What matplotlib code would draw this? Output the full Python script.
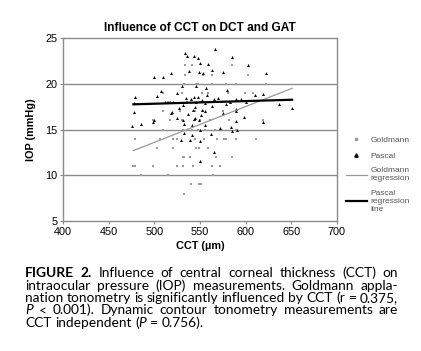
import numpy as np
import matplotlib
matplotlib.use('Agg')
import matplotlib.pyplot as plt
from matplotlib.lines import Line2D

# Goldmann applanation tonometry (GAT) readings
gold_cct = [477, 479, 479, 485, 498, 503, 509, 506, 515, 520, 520, 525, 525, 531, 531, 533, 532,
            539, 540, 549, 551, 542, 549, 546, 545, 554, 559, 564, 563, 572, 568, 569, 576, 579,
            585, 590, 611,
            509, 531, 541, 548, 556, 566, 590,
            499, 517, 530, 545, 550, 561, 582, 619,
            510, 528, 545, 553, 575, 589,
            515, 517, 536, 550, 568, 583,
            509, 530, 552, 559, 581, 599, 608,
            532, 546, 548, 563, 579, 590, 622,
            534, 553, 563, 603,
            534, 541, 585]
gold_iop = [11, 11, 14, 10, 11, 13, 15, 14, 10, 13, 14, 11, 14, 11, 12, 12, 8,
            12, 9, 9, 9, 11, 13, 13, 14, 14, 13, 10, 11, 11, 12, 14, 14, 14,
            12, 14, 14,
            15, 15, 15, 15, 15, 15, 15,
            16, 16, 16, 16, 16, 16, 16, 16,
            17, 17, 17, 17, 17, 17,
            18, 18, 18, 18, 18, 18,
            19, 19, 19, 19, 19, 19, 19,
            20, 20, 20, 20, 20, 20, 20,
            21, 21, 21, 21,
            22, 22, 22]

# Pascal dynamic contour tonometry (DCT) readings
pascal_cct = [479, 478, 478, 500, 509, 507, 503, 518, 534, 536, 543, 548, 550, 559, 567, 538,
              549, 553, 563, 575, 585, 603, 622, 530, 525, 546, 557, 580, 610, 619, 570, 590,
              637, 651, 519, 531, 542, 552, 563, 590, 598, 476, 485, 498, 500, 518, 525, 531,
              532, 533, 529, 539, 541, 541, 543, 549, 550, 550, 556, 550, 562, 565, 572, 575,
              584, 585, 589, 591, 619, 590,
              540, 543, 546, 548, 552, 555, 544, 558, 535, 520, 512, 565, 578, 583, 600, 595,
              527, 537, 551, 556, 545]
pascal_iop = [18.5, 17.9, 16.9, 20.7, 20.7, 19.2, 18.7, 21.2, 23.4, 23.0, 23.0, 22.8, 22.3, 22.1, 23.8, 21.4,
              21.3, 21.2, 21.5, 21.3, 22.9, 22.0, 21.2, 19.75, 19.0, 19.7, 19.5, 19.3, 18.8, 18.85, 18.4, 18.3,
              17.75, 17.3, 16.9, 17.7, 17.1, 17.1, 17.6, 17.05, 16.4, 15.4, 15.6, 15.8, 16.0, 16.8, 16.3, 16.0,
              15.65, 14.6, 13.85, 13.85, 14.4, 15.5, 16.1, 16.0, 14.9, 13.8, 15.5, 11.55, 14.5, 12.6, 15.2, 16.85,
              15.3, 14.85, 15.9, 14.9, 15.8, 17.2,
              18.3, 18.5, 18.0, 18.6, 18.2, 17.9, 17.5, 18.8, 18.4, 18.0, 18.0, 18.3, 17.8, 18.0, 18.0, 18.3,
              17.3, 16.7, 16.6, 17.0, 16.3]

# regression lines as drawn (end points)
gold_reg_cct = [477, 651]
gold_reg_iop = [12.7, 19.5]
pascal_reg_cct = [477, 651]
pascal_reg_iop = [17.75, 18.25]

x_ticks = [400, 450, 500, 550, 600, 650, 700]
y_ticks = [5, 10, 15, 20, 25]

plt.rcParams['font.family'] = ['Liberation Sans', 'DejaVu Sans']

fig = plt.figure(figsize=(4.21, 3.51), dpi=100)
ax = fig.add_axes([0.150, 0.370, 0.650, 0.522])

grey = '#8c8c8c'
ax.scatter(gold_cct, gold_iop, marker='s', s=2.2, color='#9a9a9a', lw=0, zorder=3)
ax.scatter(pascal_cct, pascal_iop, marker='^', s=4.5, color='black', lw=0, zorder=4)
ax.plot(gold_reg_cct, gold_reg_iop, color='#999999', lw=0.9, zorder=5)
ax.plot(pascal_reg_cct, pascal_reg_iop, color='black', lw=1.6, zorder=5)

ax.set_xlim(400, 700)
ax.set_ylim(5, 25)
ax.set_xticks(x_ticks)
ax.set_yticks(y_ticks)
for y in y_ticks[1:-1]:
    ax.axhline(y, color=grey, lw=1.0, zorder=1)
for s in ax.spines.values():
    s.set_color(grey)
    s.set_linewidth(1.0)
ax.tick_params(labelsize=7.8, length=2.5, width=0.8, color=grey, pad=1.5)

ax.set_title('Influence of CCT on DCT and GAT', fontsize=8.6, fontweight='bold', pad=5)
ax.set_xlabel('CCT (µm)', fontsize=7.8, fontweight='bold', labelpad=3)
ax.set_ylabel('IOP (mmHg)', fontsize=7.8, fontweight='bold', labelpad=7)

handles = [Line2D([], [], ls='none', marker='s', ms=1.6, color='#9a9a9a'),
           Line2D([], [], ls='none', marker='^', ms=2.4, color='black'),
           Line2D([], [], color='#999999', lw=0.9),
           Line2D([], [], color='black', lw=1.6)]
labels = ['Goldmann', 'Pascal', 'Goldmann\nregression', 'Pascal\nregression\nline']
leg = fig.legend(handles, labels, loc='upper left', bbox_to_anchor=(346 / 421, 1 - 136 / 351),
                 frameon=False, fontsize=6, handlelength=2.5, handletextpad=0.45,
                 labelspacing=0.95, borderpad=0, borderaxespad=0)
for t in leg.get_texts():
    t.set_color('#555555')

# caption, justified line by line
cap_font = ['Lato', 'DejaVu Sans']
cap_size = 9.9
caption = [
    [[('FIGURE', 'bold', 'normal')], [('2.', 'bold', 'normal')], 'Influence', 'of', 'central',
     'corneal', 'thickness', '(CCT)', 'on'],
    'intraocular pressure (IOP) measurements. Goldmann appla-'.split(),
    'nation tonometry is significantly influenced by CCT (r = 0.375,'.split(),
    [[('P', 'normal', 'italic')], '<', '0.001).', 'Dynamic', 'contour', 'tonometry',
     'measurements', 'are'],
    ['CCT', 'independent', [('(', 'normal', 'normal'), ('P', 'normal', 'italic')], '=', '0.756).'],
]
x_left, x_right = 25, 398
baselines = [277, 289.5, 302, 314.5, 327]

renderer = fig.canvas.get_renderer()


def seg_width(txt, weight, style):
    t = fig.text(0, 0, txt, fontsize=cap_size, fontweight=weight, fontstyle=style, family=cap_font)
    w = t.get_window_extent(renderer).width
    t.remove()
    return w


space_w = seg_width('a a', 'normal', 'normal') - seg_width('aa', 'normal', 'normal')
for i, line in enumerate(caption):
    words = [[(w, 'normal', 'normal')] if isinstance(w, str) else w for w in line]
    widths = [[seg_width(*s) for s in w] for w in words]
    total = sum(sum(w) for w in widths)
    if i < len(caption) - 1:
        gap = (x_right - x_left - total) / (len(words) - 1)
    else:
        gap = space_w
    x = x_left
    for w, ws in zip(words, widths):
        for (txt, weight, style), sw in zip(w, ws):
            fig.text(x / 421, 1 - baselines[i] / 351, txt, fontsize=cap_size, fontweight=weight,
                     fontstyle=style, family=cap_font, va='baseline', ha='left')
            x += sw
        x += gap

fig.savefig('out.png', dpi=100)
